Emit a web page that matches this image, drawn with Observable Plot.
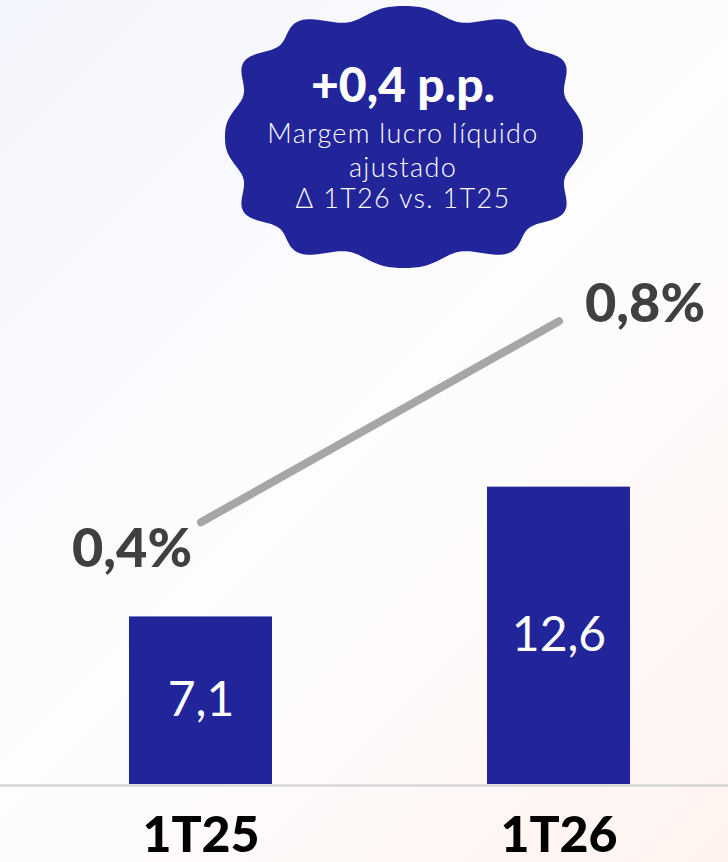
<!DOCTYPE html>
<html>
<head>
<meta charset="utf-8">
<script src="https://cdn.jsdelivr.net/npm/d3@7"></script>
<script src="https://cdn.jsdelivr.net/npm/@observablehq/plot@0.6"></script>
<style>
  html, body { margin: 0; padding: 0; }
  body {
    width: 728px; height: 862px; overflow: hidden;
    background: linear-gradient(135deg, #f3f5fc 0%, #fdfdfe 50%, #fff3ef 100%);
    font-family: Lato, "Noto Sans", sans-serif;
  }
  #wrap { position: relative; width: 728px; height: 862px; }
  #wrap > svg, #wrap > figure { position: absolute; left: 0; top: 0; margin: 0; }
</style>
</head>
<body>
<div id="wrap"></div>
<script>
// ---- data ----
const periods = ["1T25", "1T26"];
const lucro = [7.1, 12.6];          // bars
const margem = [0.4, 0.8];          // line, %
const badgeHeadline = "+0,4 p.p.";
const badgeLines = ["Margem lucro líquido", "ajustado", "Δ 1T26 vs. 1T25"];

const bars = periods.map((p, i) => ({period: p, value: lucro[i]}));
const pts = periods.map((p, i) => ({period: p, value: margem[i]}));
const fmt = v => v.toFixed(1).replace(".", ",");

const W = 728, H = 862;
const BLUE = "#22249a";
const xScale = {type: "band", domain: periods, range: [57.4, 701.8], paddingInner: 0.6, paddingOuter: 0.2};

const wrap = document.getElementById("wrap");

// ---- bars plot ----
const barPlot = Plot.plot({
  width: W, height: H,
  marginTop: 312, marginBottom: 78, marginLeft: 0, marginRight: 0,
  style: {background: "transparent", overflow: "visible"},
  x: {...xScale, axis: null},
  y: {domain: [0, 20], axis: null},
  marks: [
    Plot.ruleY([0], {stroke: "#d6d6d6", strokeWidth: 2.5, dy: 1}),
    Plot.barY(bars, {x: "period", y: "value", fill: BLUE}),
    Plot.text(bars, {x: "period", y: d => d.value / 2, text: d => fmt(d.value),
      fill: "white", fontSize: 48, fontWeight: 400, letterSpacing: -3, lineAnchor: "middle",
      fontFamily: "Lato, sans-serif"}),
    Plot.text(periods, {x: d => d, frameAnchor: "bottom", dy: 67, lineAnchor: "bottom",
      text: d => d, fill: "#000", fontSize: 50, fontWeight: 900, letterSpacing: -4,
      fontFamily: "Lato, sans-serif"})
  ]
});
wrap.appendChild(barPlot);

// ---- line plot (secondary scale, overlaid) ----
const linePlot = Plot.plot({
  width: W, height: H,
  marginTop: 220.2, marginBottom: 139.3, marginLeft: 0, marginRight: 0,
  style: {background: "transparent", overflow: "visible"},
  x: {...xScale, axis: null},
  y: {domain: [0, 1], axis: null},
  marks: [
    Plot.line(pts, {x: "period", y: "value", stroke: "#a6a6a6", strokeWidth: 8, strokeLinecap: "round"}),
    Plot.text(pts.slice(0, 1), {x: "period", y: "value", text: d => fmt(d.value) + "%",
      dx: -69, dy: 45, lineAnchor: "bottom", fill: "#404040", fontSize: 54, fontWeight: 900,
      letterSpacing: -1, fontFamily: "Lato, sans-serif"}),
    Plot.text(pts.slice(1), {x: "period", y: "value", text: d => fmt(d.value) + "%",
      dx: 86, dy: 1, lineAnchor: "bottom", fill: "#404040", fontSize: 54, fontWeight: 900,
      letterSpacing: -1, fontFamily: "Lato, sans-serif"})
  ]
});
wrap.appendChild(linePlot);

// ---- badge (wavy blob) ----
const svg = d3.select(wrap).append("svg").attr("width", W).attr("height", H)
  .style("pointer-events", "none");
const cx = 404, cy = 137, rx = 172, ry = 124, amp = 7, lobes = 12, p = 0.78;
const N = 720, ptsB = [];
for (let k = 0; k < N; k++) {
  const t = (k / N) * 2 * Math.PI;
  const c = Math.cos(t), s = Math.sin(t);
  const bx = rx * Math.sign(c) * Math.pow(Math.abs(c), p);
  const by = ry * Math.sign(s) * Math.pow(Math.abs(s), p);
  const len = Math.hypot(bx, by);
  const r = len + amp * Math.cos(lobes * t);
  ptsB.push([cx + bx / len * r, cy + by / len * r]);
}
svg.append("path").attr("d", d3.line().curve(d3.curveLinearClosed)(ptsB)).attr("fill", BLUE);
svg.append("text").attr("x", 403).attr("y", 102).attr("text-anchor", "middle")
  .attr("fill", "white").attr("font-size", 48).attr("font-weight", 900)
  .attr("font-family", "Lato, sans-serif").text(badgeHeadline);
const ys = [143, 177, 208];
badgeLines.forEach((t, i) => {
  svg.append("text").attr("x", 403).attr("y", ys[i]).attr("text-anchor", "middle")
    .attr("fill", "white").attr("font-size", 27).attr("font-weight", 300)
    .attr("letter-spacing", 1.3)
    .attr("font-family", "Lato, sans-serif").text(t);
});
</script>
</body>
</html>
